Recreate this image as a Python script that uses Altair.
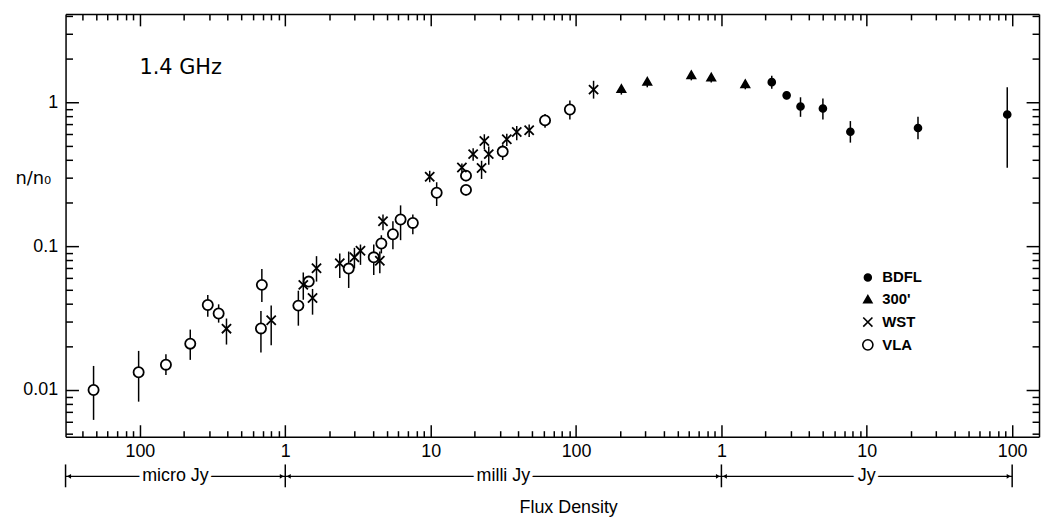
import json
import altair as alt
import pandas as pd

# ---------------- data ----------------
SERIES = ["BDFL", "300'", "WST", "VLA"]

vla_x = [4.8e-5, 9.8e-5, 1.51e-4, 2.22e-4, 2.93e-4, 3.48e-4, 6.9e-4, 6.8e-4,
         1.23e-3, 1.45e-3, 2.73e-3, 4.06e-3, 4.58e-3, 5.5e-3, 6.21e-3, 7.54e-3,
         1.1e-2, 1.75e-2, 1.75e-2, 3.13e-2, 6.12e-2, 9.07e-2]
vla_y = [0.0100, 0.0133, 0.0150, 0.0210, 0.0390, 0.0340, 0.0538, 0.0268,
         0.0386, 0.0567, 0.0698, 0.0836, 0.1044, 0.121, 0.153, 0.145,
         0.235, 0.309, 0.246, 0.454, 0.748, 0.89]
vla_lo = [0.0062, 0.0083, 0.0127, 0.0162, 0.0323, 0.0294, 0.0409, 0.0182,
          0.0280, 0.0530, 0.0512, 0.0630, 0.0890, 0.095, 0.110, 0.121,
          0.190, 0.282, 0.225, 0.397, 0.665, 0.76]
vla_hi = [0.0147, 0.0187, 0.0177, 0.0263, 0.0458, 0.0394, 0.0694, 0.0354,
          0.0490, 0.0610, 0.0917, 0.1026, 0.119, 0.149, 0.192, 0.166,
          0.278, 0.334, 0.263, 0.510, 0.830, 1.03]

wst_x = [3.94e-4, 8.0e-4, 1.33e-3, 1.54e-3, 1.64e-3, 2.37e-3, 2.99e-3, 3.29e-3,
         4.47e-3, 4.7e-3, 9.85e-3, 1.64e-2, 1.96e-2, 2.24e-2, 2.34e-2, 2.51e-2,
         3.34e-2, 3.91e-2, 4.76e-2, 0.132]
wst_y = [0.0267, 0.0305, 0.0538, 0.0436, 0.0702, 0.076, 0.0836, 0.0928,
         0.0792, 0.149, 0.304, 0.352, 0.436, 0.349, 0.538, 0.436,
         0.553, 0.621, 0.638, 1.224]
wst_lo = [0.0207, 0.0205, 0.0424, 0.0334, 0.0567, 0.060, 0.0702, 0.0741,
          0.0647, 0.129, 0.278, 0.317, 0.392, 0.293, 0.471, 0.368,
          0.497, 0.545, 0.574, 1.06]
wst_hi = [0.0314, 0.0387, 0.0656, 0.0504, 0.0852, 0.089, 0.0973, 0.1026,
          0.0917, 0.166, 0.334, 0.375, 0.479, 0.392, 0.599, 0.492,
          0.605, 0.683, 0.700, 1.41]

t300_x = [0.205, 0.309, 0.621, 0.851, 1.46]
t300_y = [1.243, 1.396, 1.553, 1.495, 1.345]
t300_lo = [1.13, 1.27, 1.42, 1.37, 1.23]
t300_hi = [1.27, 1.43, 1.59, 1.53, 1.38]

bdfl_x = [2.22, 2.81, 3.5, 4.99, 7.71, 22.5, 92.5]
bdfl_y = [1.38, 1.117, 0.934, 0.905, 0.624, 0.662, 0.822]
bdfl_lo = [1.24, 1.05, 0.792, 0.76, 0.524, 0.553, 0.35]
bdfl_hi = [1.53, 1.19, 1.083, 1.06, 0.74, 0.792, 1.27]

X_DOMAIN = [3.08e-5, 153.0]
Y_DOMAIN = [0.00474, 4.11]

x_major = [1e-4, 1e-3, 1e-2, 1e-1, 1, 10, 100]
x_labels = ["100", "1", "10", "100", "1", "10", "100"]
y_major = [0.01, 0.1, 1]
y_labels = ["0.01", "0.1", "1"]

unit_labels = ["micro Jy", "milli Jy", "Jy"]
unit_lo = [X_DOMAIN[0], 1e-3, 1.0]
unit_hi = [1e-3, 1.0, 100.0]

# ---------------- build tables ----------------
rows = []
for name, xs_, ys_, los, his in [("VLA", vla_x, vla_y, vla_lo, vla_hi),
                                 ("WST", wst_x, wst_y, wst_lo, wst_hi),
                                 ("300'", t300_x, t300_y, t300_lo, t300_hi),
                                 ("BDFL", bdfl_x, bdfl_y, bdfl_lo, bdfl_hi)]:
    for a, b, c, d in zip(xs_, ys_, los, his):
        rows.append({"series": name, "flux": a, "n": b, "lo": c, "hi": d})
df = pd.DataFrame(rows)


def minors(lo, hi, e0, e1, majors):
    out = []
    for e in range(e0, e1 + 1):
        for m in range(1, 10):
            v = float(f"{m}e{e}")
            if lo <= v <= hi and all(abs(v - M) > 1e-12 * max(1, M) for M in majors):
                out.append(v)
    return out


x_minor = minors(X_DOMAIN[0], X_DOMAIN[1], -5, 2, x_major)
y_minor = minors(Y_DOMAIN[0], Y_DOMAIN[1], -3, 0, y_major)

W, H = 981, 426
FONT = "Liberation Sans"

xs = alt.Scale(type="log", domain=X_DOMAIN, nice=False)
ys = alt.Scale(type="log", domain=Y_DOMAIN, nice=False)


def tick_axis(orient, values, size, domain, offset):
    return alt.Axis(orient=orient, values=values, tickSize=size, offset=offset,
                    labels=False, grid=False, title=None, domain=domain,
                    domainColor="black", domainWidth=1.5, tickColor="black",
                    tickWidth=1.5, ticks=True)


x_label_axis = alt.Axis(
    orient="bottom", values=x_major,
    labelExpr=f"{json.dumps(x_labels)}[indexof({json.dumps(x_major)}, datum.value)]",
    ticks=False, domain=False, grid=False, title=None, labelFont=FONT,
    labelFontSize=18, labelColor="black", labelPadding=6, labelFlush=False,
    labelOverlap=False)
y_label_axis = alt.Axis(
    orient="left", values=y_major,
    labelExpr=f"{json.dumps(y_labels)}[indexof({json.dumps(y_major)}, datum.value)]",
    ticks=False, domain=False, grid=False, labelFont=FONT, labelFontSize=18,
    labelColor="black", labelPadding=8, labelOverlap=False, labelFlush=False,
    title="n/n\u2080", titleAngle=0, titleX=-33, titleY=166, titleAlign="center",
    titleBaseline="middle", titleFont="DejaVu Sans", titleFontSize=18,
    titleFontWeight="normal", titleColor="black")

base = alt.Chart(df)

errbars = base.mark_rule(color="black", strokeWidth=1.5).encode(
    x=alt.X("flux:Q", scale=xs, axis=x_label_axis),
    y=alt.Y("lo:Q", scale=ys, axis=y_label_axis),
    y2="hi:Q",
)

# one legend definition shared by shape / fill / stroke / size so they merge into one
legend = alt.Legend(orient="none", legendX=801, legendY=258, title=None,
                    labelFont=FONT, labelFontSize=15, labelFontWeight="bold",
                    labelColor="black", rowPadding=6, labelOffset=7,
                    symbolStrokeWidth=1.6, symbolOpacity=1)

points = base.mark_point(filled=True, strokeWidth=1.8, opacity=1).encode(
    x=alt.X("flux:Q", scale=xs, axis=tick_axis("top", x_major, 12, True, -H)),
    y=alt.Y("n:Q", scale=ys, axis=tick_axis("right", y_major, 13, True, -W)),
    shape=alt.Shape("series:N", scale=alt.Scale(
        domain=SERIES, range=["circle", "triangle-up", "M-1,-1L1,1M1,-1L-1,1", "circle"]),
        legend=legend),
    fill=alt.Fill("series:N", scale=alt.Scale(
        domain=SERIES, range=["black", "black", "black", "white"]), legend=legend),
    stroke=alt.Stroke("series:N", scale=alt.Scale(
        domain=SERIES, range=["black", "black", "black", "black"]), legend=legend),
    size=alt.Size("series:N", scale=alt.Scale(domain=SERIES, range=[48, 105, 50, 58]),
                  legend=legend),
)


def carrier(xaxis, yaxis):
    return base.mark_point(opacity=0).encode(
        x=alt.X("flux:Q", scale=xs, axis=xaxis),
        y=alt.Y("n:Q", scale=ys, axis=yaxis),
    )


c1 = carrier(tick_axis("top", x_minor, 6, False, -H), tick_axis("right", y_minor, 7, False, -W))
c2 = carrier(tick_axis("bottom", x_major, 12, True, -H), tick_axis("left", y_major, 13, True, -W))
c3 = carrier(tick_axis("bottom", x_minor, 6, False, -H), tick_axis("left", y_minor, 7, False, -W))

# ---------------- unit brackets under the axis ----------------
units = pd.DataFrame({
    "label": unit_labels, "lo": unit_lo, "hi": unit_hi,
    "mid": [(a * b) ** 0.5 for a, b in zip(unit_lo, unit_hi)],
})
ends = pd.DataFrame({"pos": sorted(set(unit_lo + unit_hi))})

ub = alt.Chart(units)
LINE_Y = 466
hline = ub.mark_rule(color="black", strokeWidth=1.2).encode(
    x=alt.X("lo:Q", scale=xs, axis=None), x2="hi:Q", y=alt.value(LINE_Y))
vbars = alt.Chart(ends).mark_rule(color="black", strokeWidth=1.5).encode(
    x=alt.X("pos:Q", scale=xs, axis=None), y=alt.value(LINE_Y - 12), y2=alt.value(LINE_Y + 11))
arrow_l = ub.mark_point(shape="triangle-left", filled=True, color="black", size=22,
                        opacity=1, xOffset=3.5).encode(
    x=alt.X("lo:Q", scale=xs, axis=None), y=alt.value(LINE_Y))
arrow_r = ub.mark_point(shape="triangle-right", filled=True, color="black", size=22,
                        opacity=1, xOffset=-3.5).encode(
    x=alt.X("hi:Q", scale=xs, axis=None), y=alt.value(LINE_Y))
halo = ub.mark_text(font=FONT, fontSize=18, fill="white", stroke="white", strokeWidth=8,
                    align="center", baseline="middle").encode(
    x=alt.X("mid:Q", scale=xs, axis=None), y=alt.value(LINE_Y), text="label:N")
ulabels = ub.mark_text(font=FONT, fontSize=18, color="black",
                       align="center", baseline="middle").encode(
    x=alt.X("mid:Q", scale=xs, axis=None), y=alt.value(LINE_Y), text="label:N")

notes = pd.DataFrame({"t": ["Flux Density"]})
xtitle = alt.Chart(notes).mark_text(font=FONT, fontSize=18, color="black",
                                    align="center", baseline="middle").encode(
    x=alt.value(507), y=alt.value(498), text="t:N")
freq = pd.DataFrame({"t": ["1.4 GHz"]})
ftext = alt.Chart(freq).mark_text(font="DejaVu Sans", fontSize=21, color="black",
                                  align="center", baseline="middle").encode(
    x=alt.value(116), y=alt.value(55), text="t:N")

chart = alt.layer(
    errbars, points, c1, c2, c3,
    hline, halo, ulabels, vbars, arrow_l, arrow_r, xtitle, ftext,
).resolve_axis(x="independent", y="independent").properties(
    width=W, height=H,
    autosize=alt.AutoSizeParams(type="none"),
    padding={"left": 58, "top": 4, "right": 2, "bottom": 82},
    background="white",
).configure_view(stroke=None)

chart.save("out.html", embed_options={"renderer": "svg", "actions": False})
